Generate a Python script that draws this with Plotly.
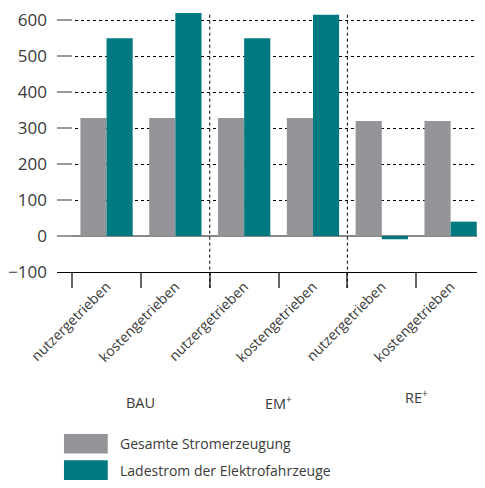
import plotly.graph_objects as go

categories = ["nutzergetrieben", "kostengetrieben", "nutzergetrieben",
              "kostengetrieben", "nutzergetrieben", "kostengetrieben"]
groups = ["BAU", "EM<sup>+</sup>", "RE<sup>+</sup>"]
series_names = ["Gesamte Stromerzeugung", "Ladestrom der Elektrofahrzeuge"]
gesamt = [328, 328, 328, 328, 320, 320]
ladestrom = [550, 620, 550, 615, -9, 40]
y_ticks = [-100, 0, 100, 200, 300, 400, 500, 600]

GRAY = "#939598"
TEAL = "#007A80"
TXT = "#3a3a3a"
FONT = "Open Sans"

# page body has an 8px margin: figure origin sits at window (8, 8)
OFF = 8
PL, PB, PW, PH = 55, 272, 430, 264  # plot area in window pixels (left, bottom, w, h)

xpos = list(range(len(categories)))
boundaries = [i - 0.5 for i in range(len(categories) + 1)]
xr = [-0.72, 5.5]


def px(xw):
    return (xw - PL) / PW


def py(yw):
    return (PB - yw) / PH


fig = go.Figure()
fig.add_trace(go.Bar(x=xpos, y=gesamt, name=series_names[0], marker_color=GRAY,
                     marker_line_width=0, showlegend=False))
fig.add_trace(go.Bar(x=xpos, y=ladestrom, name=series_names[1], marker_color=TEAL,
                     marker_line_width=0, showlegend=False))
# invisible trace for boundary ticks on overlaying axis
fig.add_trace(go.Scatter(x=[xr[0]], y=[0], xaxis="x2", mode="markers",
                         marker_opacity=0, showlegend=False, hoverinfo="skip"))

fig.update_layout(
    width=485 - OFF, height=488 - OFF,
    margin=dict(l=PL - OFF, r=0, t=PB - PH - OFF, b=488 - PB),
    plot_bgcolor="white", paper_bgcolor="white",
    barmode="group", bargap=0.24, bargroupgap=0,
    font=dict(family=FONT, color=TXT, size=14),
    xaxis=dict(range=xr, tickmode="array", tickvals=xpos, ticktext=categories,
               tickangle=-45, ticks="", showgrid=False, zeroline=False,
               showline=True, linecolor="black", linewidth=1,
               tickfont=dict(size=14, color=TXT)),
    xaxis2=dict(range=xr, overlaying="x", anchor="y", side="bottom",
                tickmode="array", tickvals=boundaries, ticks="outside",
                ticklen=15, tickwidth=1.5, tickcolor="#666",
                showticklabels=False, showgrid=False, zeroline=False),
    yaxis=dict(range=[-100, 620], tickmode="array", tickvals=y_ticks,
               showgrid=True, gridcolor="black", griddash="3px,3px", gridwidth=1,
               zeroline=True, zerolinecolor="#888", zerolinewidth=1.5,
               ticks="inside", ticklen=15, tickwidth=2, tickcolor="#999",
               ticklabelstandoff=9, ticklabeloverflow="allow",
               tickfont=dict(size=17, color=TXT), showline=False),
)

# group separators
for b in (1.5, 3.5):
    fig.add_shape(type="line", xref="x", yref="paper", x0=b, x1=b,
                  y0=py(288), y1=1,
                  line=dict(color="black", width=1, dash="3px,3px"))

# group labels
group_y = [405, 405, 399]
for gi, g in enumerate(groups):
    fig.add_annotation(x=2 * gi + 0.5, xref="x", y=py(group_y[gi]), yref="paper",
                       text=g, showarrow=False, font=dict(size=14.5, color=TXT),
                       xanchor="center", yanchor="middle")

# legend
leg_colors = [GRAY, TEAL]
for i, (name, col) in enumerate(zip(series_names, leg_colors)):
    ytop = 437 + i * 27
    fig.add_shape(type="rect", xref="paper", yref="paper",
                  x0=px(62), x1=px(106), y0=py(ytop), y1=py(ytop + 20),
                  fillcolor=col, line_width=0)
    fig.add_annotation(xref="paper", yref="paper", x=px(116),
                       y=py(ytop + 10), text=name, showarrow=False,
                       xanchor="left", yanchor="middle",
                       font=dict(size=14, color=TXT))

fig.write_html("out.html")
